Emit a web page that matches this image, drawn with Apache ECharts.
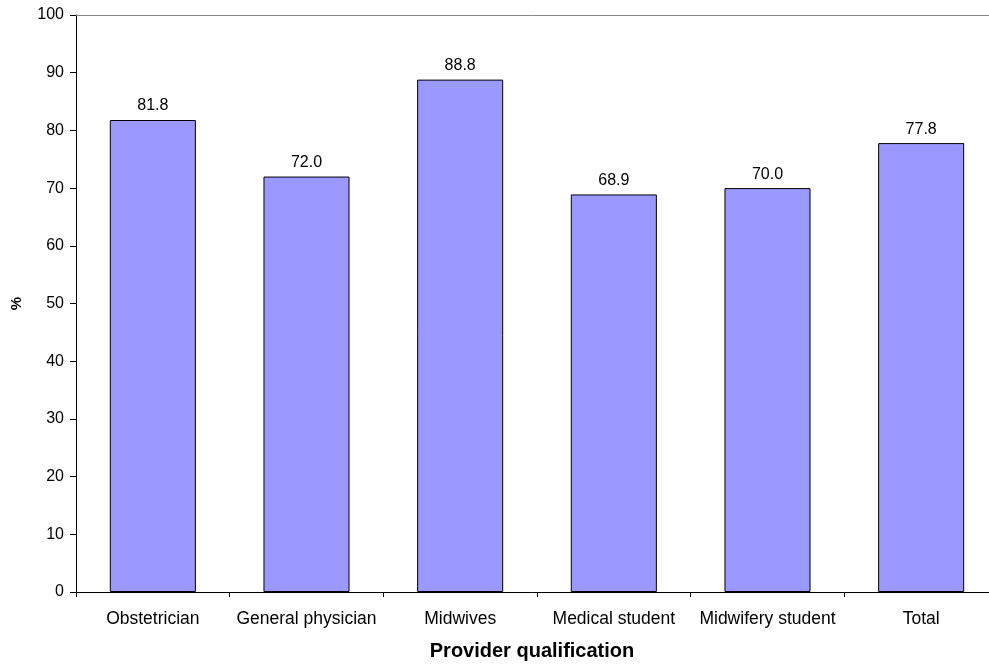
<!DOCTYPE html>
<html>
<head>
<meta charset="utf-8">
<script src="https://cdn.jsdelivr.net/npm/echarts@6/dist/echarts.min.js"></script>
<style>html,body{margin:0;padding:0;background:#fff}#c{width:989px;height:665px}</style>
</head>
<body>
<div id="c"></div>
<script>
const categories = ["Obstetrician", "General physician", "Midwives", "Medical student", "Midwifery student", "Total"];
const values = [81.8, 72.0, 88.8, 68.9, 70.0, 77.8];
const yAxisTitle = "%";
const xAxisTitle = "Provider qualification";

const chart = echarts.init(document.getElementById('c'));
const font = "Liberation Sans, Arial, sans-serif";
chart.setOption({
  animation: false,
  grid: { left: 76, top: 15, width: 922, height: 577, containLabel: false, outerBoundsMode: 'none' },
  xAxis: [{
    type: 'category',
    data: categories,
    position: 'bottom',
    axisLine: { lineStyle: { color: '#000', width: 1 } },
    axisTick: { show: true, length: 5, lineStyle: { color: '#000' }, alignWithLabel: false },
    axisLabel: { color: '#000', fontFamily: font, fontSize: 17.5, margin: 18, interval: 0 },
    name: xAxisTitle,
    nameLocation: 'middle',
    nameGap: 49,
    nameTextStyle: { color: '#000', fontFamily: font, fontSize: 20, fontWeight: 'bold', padding: [0, 0, 0, -10] }
  }, {
    type: 'category',
    data: categories,
    position: 'top',
    axisLine: { lineStyle: { color: '#888', width: 1 } },
    axisTick: { show: false },
    axisLabel: { show: false }
  }],
  yAxis: {
    type: 'value',
    min: 0, max: 100, interval: 10,
    axisLine: { show: true, lineStyle: { color: '#000' } },
    axisTick: { show: true, length: 6, inside: false, lineStyle: { color: '#000' } },
    axisLabel: { color: '#000', fontFamily: font, fontSize: 16, margin: 12 },
    splitLine: { show: false },
    name: yAxisTitle,
    nameLocation: 'middle',
    nameGap: 52,
    nameRotate: 90,
    nameTextStyle: { color: '#000', fontFamily: font, fontSize: 15, fontWeight: 'bold' }
  },
  series: [{
    type: 'bar',
    data: values,
    barWidth: '56%',
    itemStyle: { color: '#9999FF', borderColor: '#000', borderWidth: 1 },
    label: {
      show: true, position: 'top', distance: 6,
      color: '#000', fontFamily: font, fontSize: 16,
      formatter: p => p.value.toFixed(1)
    }
  }]
});
</script>
</body>
</html>
